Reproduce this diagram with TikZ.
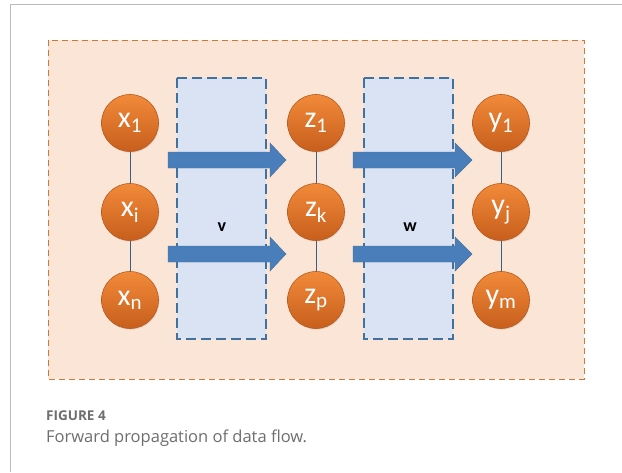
\documentclass[tikz,border=0pt]{standalone}
\usepackage{fontspec}
\setmainfont{Carlito}
\newfontfamily\capfont{Open Sans}
\usetikzlibrary{shadows}
\definecolor{nodeTop}{HTML}{F28A3A}
\definecolor{nodeBot}{HTML}{C75E1C}
\definecolor{nodeEdge}{HTML}{B65A1E}
\definecolor{bgFill}{HTML}{FBE5D6}
\definecolor{bgEdge}{HTML}{D0773A}
\definecolor{panelFill}{HTML}{DAE3F3}
\definecolor{panelEdge}{HTML}{41719C}
\definecolor{arrowFill}{HTML}{4A7EBB}
\definecolor{arrowEdge}{HTML}{41719C}
\definecolor{linkCol}{HTML}{3A5F85}
\definecolor{frameCol}{HTML}{BBBBBB}
\definecolor{capCol}{HTML}{6E6E6E}
\tikzset{
  neuron/.style={circle, minimum size=57pt, inner sep=0pt,
    top color=nodeTop, bottom color=nodeBot, draw=nodeEdge, line width=0.6pt,
    text=white, font=\fontsize{30}{30}\selectfont,
    drop shadow={opacity=0.18, shadow xshift=0.8pt, shadow yshift=-1.2pt}},
  link/.style={draw=linkCol, line width=1pt},
  panel/.style={fill=panelFill, draw=panelEdge, line width=1.2pt, dash pattern=on 10pt off 5pt},
  flow/.style={fill=arrowFill, draw=arrowEdge, line width=0.4pt},
  wlabel/.style={font=\fontsize{18}{18}\selectfont\bfseries, text=black}
}
\begin{document}
\begin{tikzpicture}[x=1pt,y=-1pt]
\useasboundingbox (0,0) rectangle (622,472);
\fill[white] (0,0) rectangle (622,472);
% outer frame
\draw[frameCol, line width=1pt] (10,472) -- (10,4) -- (622,4);
% background area
\draw[fill=bgFill, draw=bgEdge, line width=1pt, dash pattern=on 6pt off 4pt] (48,40) rectangle (584,379);
% weight panels
\draw[panel] (177,78) rectangle (266,339);
\draw[panel] (364,78) rectangle (453,339);
% flow arrows
\foreach \xa/\xb/\xh in {168/286/270, 353/472/455}{
  \foreach \yc in {160, 254}{
    \draw[flow] (\xa,\yc-8) -- (\xh,\yc-8) -- (\xh,\yc-17) -- (\xb,\yc) -- (\xh,\yc+17) -- (\xh,\yc+8) -- (\xa,\yc+8) -- cycle;
  }
}
\node[wlabel] (v) at (222,227) {v};
\node[wlabel] (w) at (410,227) {w};
% links between neurons
\coordinate (x1c) at (130,123); \coordinate (xic) at (130,212); \coordinate (xnc) at (130,300);
\coordinate (z1c) at (316,123); \coordinate (zkc) at (316,212); \coordinate (zpc) at (316,300);
\coordinate (y1c) at (501,123); \coordinate (yjc) at (501,212); \coordinate (ymc) at (501,300);
\draw[link] (x1c) -- (xnc);
\draw[link] (z1c) -- (zpc);
\draw[link] (y1c) -- (ymc);
% neurons
\node[neuron] (x1) at (x1c) {x\textsubscript{1}};
\node[neuron] (xi) at (xic) {x\textsubscript{i}};
\node[neuron] (xn) at (xnc) {x\textsubscript{n}};
\node[neuron] (z1) at (z1c) {z\textsubscript{1}};
\node[neuron] (zk) at (zkc) {z\textsubscript{k}};
\node[neuron] (zp) at (zpc) {z\textsubscript{p}};
\node[neuron] (y1) at (y1c) {y\textsubscript{1}};
\node[neuron] (yj) at (yjc) {y\textsubscript{j}};
\node[neuron] (ym) at (ymc) {y\textsubscript{m}};
% caption
\node[anchor=base west, inner sep=0pt, text=capCol, font=\capfont\fontsize{13.5}{13.5}\selectfont\bfseries] (fig) at (46,420) {FIGURE 4};
\node[anchor=base west, inner sep=0pt, text=capCol, font=\capfont\fontsize{16.5}{16.5}\selectfont] (cap) at (46,442) {Forward propagation of data flow.};
\end{tikzpicture}
\end{document}
